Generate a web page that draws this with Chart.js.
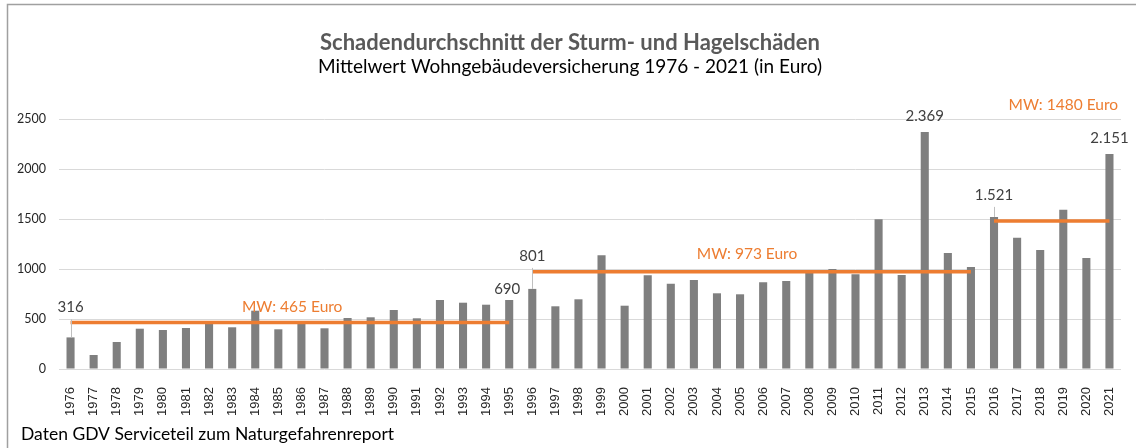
<!DOCTYPE html>
<html lang="de">
<head>
<meta charset="UTF-8" />
<title>Schadendurchschnitt der Sturm- und Hagelschäden</title>
<script src="https://cdn.jsdelivr.net/npm/chart.js"></script>
<style>
  html, body { margin: 0; padding: 0; background: #fff; }
  #wrap { position: relative; width: 1136px; height: 448px; }
</style>
</head>
<body>
<div id="wrap"><canvas id="chart" width="1136" height="448"></canvas></div>
<script>
// Jahre (x-Achse)
var years = ["1976", "1977", "1978", "1979", "1980", "1981", "1982", "1983", "1984", "1985",
  "1986", "1987", "1988", "1989", "1990", "1991", "1992", "1993", "1994", "1995",
  "1996", "1997", "1998", "1999", "2000", "2001", "2002", "2003", "2004", "2005",
  "2006", "2007", "2008", "2009", "2010", "2011", "2012", "2013", "2014", "2015",
  "2016", "2017", "2018", "2019", "2020", "2021"];

// Schadendurchschnitt je Jahr in Euro
var schaden = [316, 140, 270, 403, 390, 410, 465, 417, 583, 397,
  457, 407, 510, 517, 590, 507, 690, 663, 643, 690,
  801, 627, 697, 1137, 633, 937, 853, 890, 757, 747,
  867, 880, 970, 1000, 947, 1497, 940, 2369, 1160, 1020,
  1521, 1313, 1190, 1593, 1110, 2151];

// Mittelwerte je Zeitraum
var mwWerte = [465, 973, 1480];
var mwVon = ["1976", "1996", "2016"];
var mwBis = ["1995", "2015", "2021"];

// y-Achse
var yTicks = [0, 500, 1000, 1500, 2000, 2500];

// Jahre mit Wertbeschriftung
var labelJahre = ["1976", "1995", "1996", "2013", "2016", "2021"];

var titel = "Schadendurchschnitt der Sturm- und Hagelschäden";
var untertitel = "Mittelwert Wohngebäudeversicherung 1976 - 2021 (in Euro)";
var quelle = "Daten GDV Serviceteil zum Naturgefahrenreport";

var ORANGE = "#ed7d31";
var GRAU = "#7f7f7f";

// Verschiebung der Beschriftungen (wie im Original von Hand gesetzt)
var labelStil = {
  "1976": { dx: 0, dy: -30, leader: true },
  "1995": { dx: -2, dy: -11 },
  "1996": { dx: 0, dy: -33, leader: true },
  "2013": { dx: 0, dy: -16 },
  "2016": { dx: 0, dy: -22, leader: true },
  "2021": { dx: 0, dy: -16 }
};
var mwStil = [
  { pos: 9.6, dy: -16 },
  { pos: 29.3, dy: -18 },
  { pos: 43.0, dy: -116 }
];

var mwDatasets = mwWerte.map(function (mw, i) {
  return {
    type: "line",
    data: years.map(function (y) {
      return (y >= mwVon[i] && y <= mwBis[i]) ? mw : null;
    }),
    borderColor: ORANGE,
    borderWidth: 3.5,
    borderCapStyle: "butt",
    pointRadius: 0,
    fill: false,
    tension: 0,
    spanGaps: false,
    order: 1
  };
});

var deko = {
  id: "deko",
  afterDraw: function (chart) {
    var c = chart.ctx;
    var xs = chart.scales.x, ys = chart.scales.y;
    c.save();

    // Rahmen (oben und links)
    c.strokeStyle = "#a0a0a0";
    c.lineWidth = 1.5;
    c.beginPath();
    c.moveTo(7.5, 448);
    c.lineTo(7.5, 4.5);
    c.lineTo(1136, 4.5);
    c.stroke();

    // Titel
    c.textAlign = "center";
    c.textBaseline = "alphabetic";
    c.fillStyle = "#595959";
    c.font = "bold 22px Lato";
    c.fillText(titel, 570, 50);
    c.fillStyle = "#000";
    c.font = "19px Lato";
    c.fillText(untertitel, 570, 73);

    // Quelle
    c.textAlign = "left";
    c.font = "17.5px Lato";
    c.fillText(quelle, 21, 440);

    // Wertbeschriftungen
    c.textAlign = "center";
    c.textBaseline = "middle";
    c.font = "15px Lato";
    labelJahre.forEach(function (j) {
      var i = years.indexOf(j);
      var st = labelStil[j];
      var x = xs.getPixelForValue(i);
      var yTop = ys.getPixelForValue(schaden[i]);
      var ly = yTop + st.dy;
      c.fillStyle = "#404040";
      c.fillText(schaden[i].toLocaleString("de-DE"), x + st.dx, ly);
      if (st.leader) {
        c.strokeStyle = "#bfbfbf";
        c.lineWidth = 1;
        c.beginPath();
        c.moveTo(Math.round(x) + 0.5, ly + 12);
        c.lineTo(Math.round(x) + 0.5, yTop);
        c.stroke();
      }
    });

    // Mittelwert-Beschriftungen
    c.fillStyle = ORANGE;
    c.font = "15.5px Lato";
    mwWerte.forEach(function (mw, i) {
      var st = mwStil[i];
      var x0 = xs.getPixelForValue(0), x1 = xs.getPixelForValue(1);
      var x = x0 + st.pos * (x1 - x0);
      c.fillText("MW: " + mw + " Euro", x, ys.getPixelForValue(mw) + st.dy);
    });
    c.restore();
  }
};

var ctx = document.getElementById("chart").getContext("2d");
var chart = new Chart(ctx, {
  type: "bar",
  data: {
    labels: years,
    datasets: [{
      type: "bar",
      data: schaden,
      backgroundColor: GRAU,
      barPercentage: 0.35,
      categoryPercentage: 1,
      order: 2
    }].concat(mwDatasets)
  },
  options: {
    responsive: false,
    animation: false,
    devicePixelRatio: 1,
    layout: { padding: { left: 0, right: 15, top: 119, bottom: 0 } },
    plugins: {
      legend: { display: false },
      tooltip: { enabled: false },
      title: { display: false }
    },
    scales: {
      x: {
        grid: { display: false },
        border: { display: false },
        ticks: {
          minRotation: 90,
          maxRotation: 90,
          autoSkip: false,
          padding: 10,
          color: "#262626",
          font: { family: "'Liberation Sans', Arial, sans-serif", size: 13 }
        },
        afterFit: function (s) { s.height = 79; }
      },
      y: {
        min: 0,
        max: 2500,
        afterBuildTicks: function (s) {
          s.ticks = yTicks.map(function (v) { return { value: v }; });
        },
        grid: { color: "#d9d9d9", drawTicks: false },
        border: { display: false },
        ticks: {
          padding: 13,
          color: "#262626",
          font: { family: "Lato", size: 12.5 },
          callback: function (v) { return String(v); }
        },
        afterFit: function (s) { s.width = 59; }
      }
    }
  },
  plugins: [deko]
});
</script>
</body>
</html>
